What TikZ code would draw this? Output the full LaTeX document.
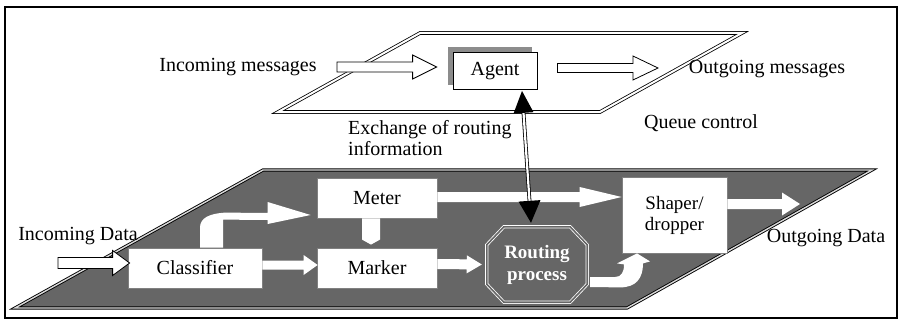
\documentclass[tikz,border=0pt]{standalone}
\usepackage{fontspec}
\setmainfont{Liberation Serif}
\usetikzlibrary{calc}
\definecolor{slab}{gray}{0.4}
\definecolor{boxedge}{gray}{0.5}
\newcommand\blockarrow[6][blk]{%
  \coordinate (bah) at ($(#3)!#6!(#2)$);
  \draw[#1] ($(#2)!#4!90:(#3)$) -- ($(bah)!#4!90:(#3)$) -- ($(bah)!#5!90:(#3)$) -- (#3)
    -- ($(bah)!#5!-90:(#3)$) -- ($(bah)!#4!-90:(#3)$) -- ($(#2)!#4!-90:(#3)$) -- cycle;
}
\begin{document}
\begin{tikzpicture}[x=1pt,y=-1pt,
  lbl/.style={font=\fontsize{20}{21}\selectfont, inner sep=0pt},
  box/.style={draw=boxedge, fill=white, line width=0.8pt, font=\fontsize{20}{21}\selectfont, inner sep=0pt, align=center},
  blk/.style={fill=white, draw=black, line width=0.8pt, line join=miter},
  blkw/.style={fill=white, draw=none},
  plane/.style={draw=black, line width=0.8pt, double=white, double distance=2pt},
]
\useasboundingbox (0,0) rectangle (901,329);
\draw[line width=1.2pt] (5,7) rectangle (897,318);

% upper plane
\draw[plane, fill=white] (278,112) -- (600,112) -- (742,33) -- (420,33) -- cycle;
% lower slab
\draw[fill=slab, draw=black, line width=0.9pt, double=black!15, double distance=1.4pt]
  (15,308) -- (627,308) -- (872,170) -- (263,170) -- cycle;

% agent with shadow
\path node[minimum width=84pt, minimum height=37pt, inner sep=0pt] (agentbg) at (495,71) {};
\fill[black!45] ($(agentbg.north west)+(-5,-5)$) rectangle ($(agentbg.south east)+(-5,-5)$);
\node[box, draw=black, minimum width=84pt, minimum height=37pt] (agent) at (agentbg.center) {Agent};

% text labels
\node[lbl] (inmsg) at (238,67) {Incoming messages};
\node[lbl] (outmsg) at (767,69) {Outgoing messages};
\node[lbl] (queue) at (701,123) {Queue control};
\node[lbl, align=left, anchor=west] (exch) at (348,138) {Exchange of routing\\information};
\node[lbl] (indata) at (78,236) {Incoming Data};
\node[lbl] (outdata) at (826,238) {Outgoing Data};

% lower boxes
\node[box, minimum width=120pt, minimum height=40pt] (meter) at (377,198) {Meter};
\node[box, minimum width=120pt, minimum height=40pt] (marker) at (377,268) {Marker};
\node[box, minimum width=134pt, minimum height=40pt] (classifier) at (195,268) {Classifier};
\node[box, minimum width=105pt, minimum height=76pt, font=\fontsize{19}{21}\selectfont] (shaper) at (674.5,215) {Shaper/\\dropper};
\node[inner sep=0pt, minimum width=100pt, minimum height=75pt, text=white,
      font=\fontsize{19}{22}\selectfont\bfseries, align=center] (routing) at (537,264.5) {Routing\\process};
\draw[draw=white, line width=0.8pt, double=slab, double distance=1.6pt]
  ($(routing.north west)+(17,0)$) -- ($(routing.north east)+(-17,0)$) -- ($(routing.north east)+(0,18)$)
  -- ($(routing.south east)+(0,-18)$) -- ($(routing.south east)+(-17,0)$) -- ($(routing.south west)+(17,0)$)
  -- ($(routing.south west)+(0,-18)$) -- ($(routing.north west)+(0,18)$) -- cycle;

% coordinates for free ends
\coordinate (ims) at (337,67);
\coordinate (ome) at (658,68);
\coordinate (ids) at (58,263);
\coordinate (ode) at (800,204);

% upper arrows
\coordinate (a1e) at ($(agent.west)+(-16,-4)$);
\blockarrow{ims}{a1e}{5pt}{12pt}{24pt}
\coordinate (a2s) at ($(agent.east)+(20,-3)$);
\blockarrow{a2s}{ome}{4.5pt}{12pt}{25pt}

% lower arrows
\coordinate (a3e) at ($(classifier.west)+(2,-5)$);
\blockarrow{ids}{a3e}{5.5pt}{12.5pt}{17pt}
\coordinate (a4s) at ($(classifier.east)+(0,-3)$);
\coordinate (a4e) at ($(marker.west)+(1,-3)$);
\blockarrow[blkw]{a4s}{a4e}{4.5pt}{10pt}{14pt}
\coordinate (a5s) at ($(meter.south)+(-6,0)$);
\coordinate (a5e) at ($(marker.north)+(-6,-3)$);
\blockarrow[blkw]{a5s}{a5e}{9pt}{9pt}{5pt}
\coordinate (a6s) at ($(meter.east)+(0,-1)$);
\coordinate (a6e) at ($(shaper.west)+(0,-18)$);
\blockarrow[blkw]{a6s}{a6e}{5pt}{10pt}{42pt}
\coordinate (a7s) at ($(marker.east)+(0,-4)$);
\coordinate (a7e) at ($(routing.west)+(-5,0)$);
\blockarrow[blkw]{a7s}{a7e}{5pt}{9pt}{15pt}
\coordinate (a8s) at ($(shaper.east)+(0,-11)$);
\blockarrow[blkw]{a8s}{ode}{5pt}{11.5pt}{18pt}

% classifier -> meter bent arrow
\fill[white] ($(classifier.north)+(5,0)$) -- ($(classifier.north)+(5,-20)$)
  .. controls ($(classifier.north)+(5,-30)$) and ($(classifier.north)+(15,-34)$) .. ($(classifier.north)+(30,-35)$)
  -- ($(meter.west)+(-49,15)$) -- ($(meter.west)+(-49,4)$) -- ($(meter.west)+(-6,17)$)
  -- ($(meter.west)+(-49,26)$) -- ($(meter.west)+(-49,22)$) -- ($(classifier.north)+(28,-28)$)
  -- ($(classifier.north)+(28,0)$) -- cycle;

% routing -> shaper bent arrow
\fill[white] ($(routing.east)+(3,22.5)$) -- ($(routing.east)+(3,12.5)$) -- ($(routing.east)+(28,12.5)$)
  .. controls ($(routing.east)+(34,12.5)$) and ($(routing.east)+(37,7.5)$) .. ($(shaper.south)+(-50.5,11)$)
  -- ($(shaper.south)+(-57.5,10)$) -- ($(shaper.south)+(-37.5,0)$) -- ($(shaper.south)+(-24.5,8)$)
  -- ($(shaper.south)+(-31.5,10)$)
  .. controls ($(shaper.south)+(-31.5,25)$) and ($(shaper.south)+(-38.5,34)$) .. ($(shaper.south)+(-54.5,34)$)
  -- cycle;

% exchange of routing information: double line with black heads
\coordinate (dt) at ($(agent.south)+(27,1)$);
\coordinate (db) at ($(routing.north)+(-6,-4)$);
\draw[draw=black, line width=0.8pt, double=white, double distance=2.2pt]
  ($(dt)!20pt!(db)$) -- ($(db)!20pt!(dt)$);
\fill[black] (dt) -- ($(dt)!22pt!(db)!10pt!90:(db)$) -- ($(dt)!22pt!(db)!10pt!-90:(db)$) -- cycle;
\fill[black] (db) -- ($(db)!22pt!(dt)!11pt!90:(dt)$) -- ($(db)!22pt!(dt)!11pt!-90:(dt)$) -- cycle;
\end{tikzpicture}
\end{document}
